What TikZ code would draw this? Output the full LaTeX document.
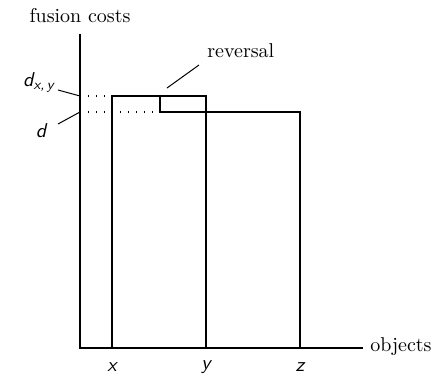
\documentclass[tikz,border=0pt]{standalone}
\begin{document}
\begin{tikzpicture}[x=0.5pt,y=-0.5pt,
  ln/.style={line width=0.8pt},
  lead/.style={line width=0.5pt},
  dots/.style={line width=0.6pt,dash pattern=on 0.6pt off 3.4pt},
  lab/.style={inner sep=0pt},
  mlab/.style={inner sep=0pt,font=\sffamily\itshape}]
\useasboundingbox (0,0) rectangle (440,376);
% axes
\coordinate (o) at (80,348);
\coordinate (ytop) at (80,34);
\coordinate (xend) at (363,348);
\draw[ln] (ytop) -- (o) -- (xend);
\node[lab,anchor=west] (objects) at (370,347) {objects};
\node[lab] (fusion) at (80,16) {fusion costs};
% points
\coordinate (xb) at (112,348);
\coordinate (xt) at (112,96);
\coordinate (yb) at (206,348);
\coordinate (yt) at (206,96);
\coordinate (zb) at (300,348);
\coordinate (zt) at (300,112);
\coordinate (rt) at (160,96);
\coordinate (rb) at (160,112);
\draw[ln] (xb) -- (xt) -- (yt) -- (yb);
\draw[ln] (rt) -- (rb) -- (zt) -- (zb);
% dotted
\coordinate (a1) at (80,96);
\coordinate (a2) at (80,112);
\draw[dots] (a1) -- (xt);
\draw[dots] (a2) -- (rb);
% labels
\node[mlab] (lx) at (112,367) {x};
\node[mlab] (ly) at (206,367) {y};
\node[mlab] (lz) at (300,367) {z};
\node[mlab] (dxy) at (39,82) {d\textsubscript{x,\,y}};
\node[mlab] (d) at (41,131) {d};
\node[lab,anchor=west] (rev) at (207,51) {reversal};
\coordinate (l1a) at (58,90);
\coordinate (l2a) at (58,124);
\coordinate (l3a) at (199,65);
\coordinate (l3b) at (167,88);
\draw[lead] (l1a) -- (a1);
\draw[lead] (l2a) -- (a2);
\draw[lead] (l3a) -- (l3b);
\end{tikzpicture}
\end{document}
